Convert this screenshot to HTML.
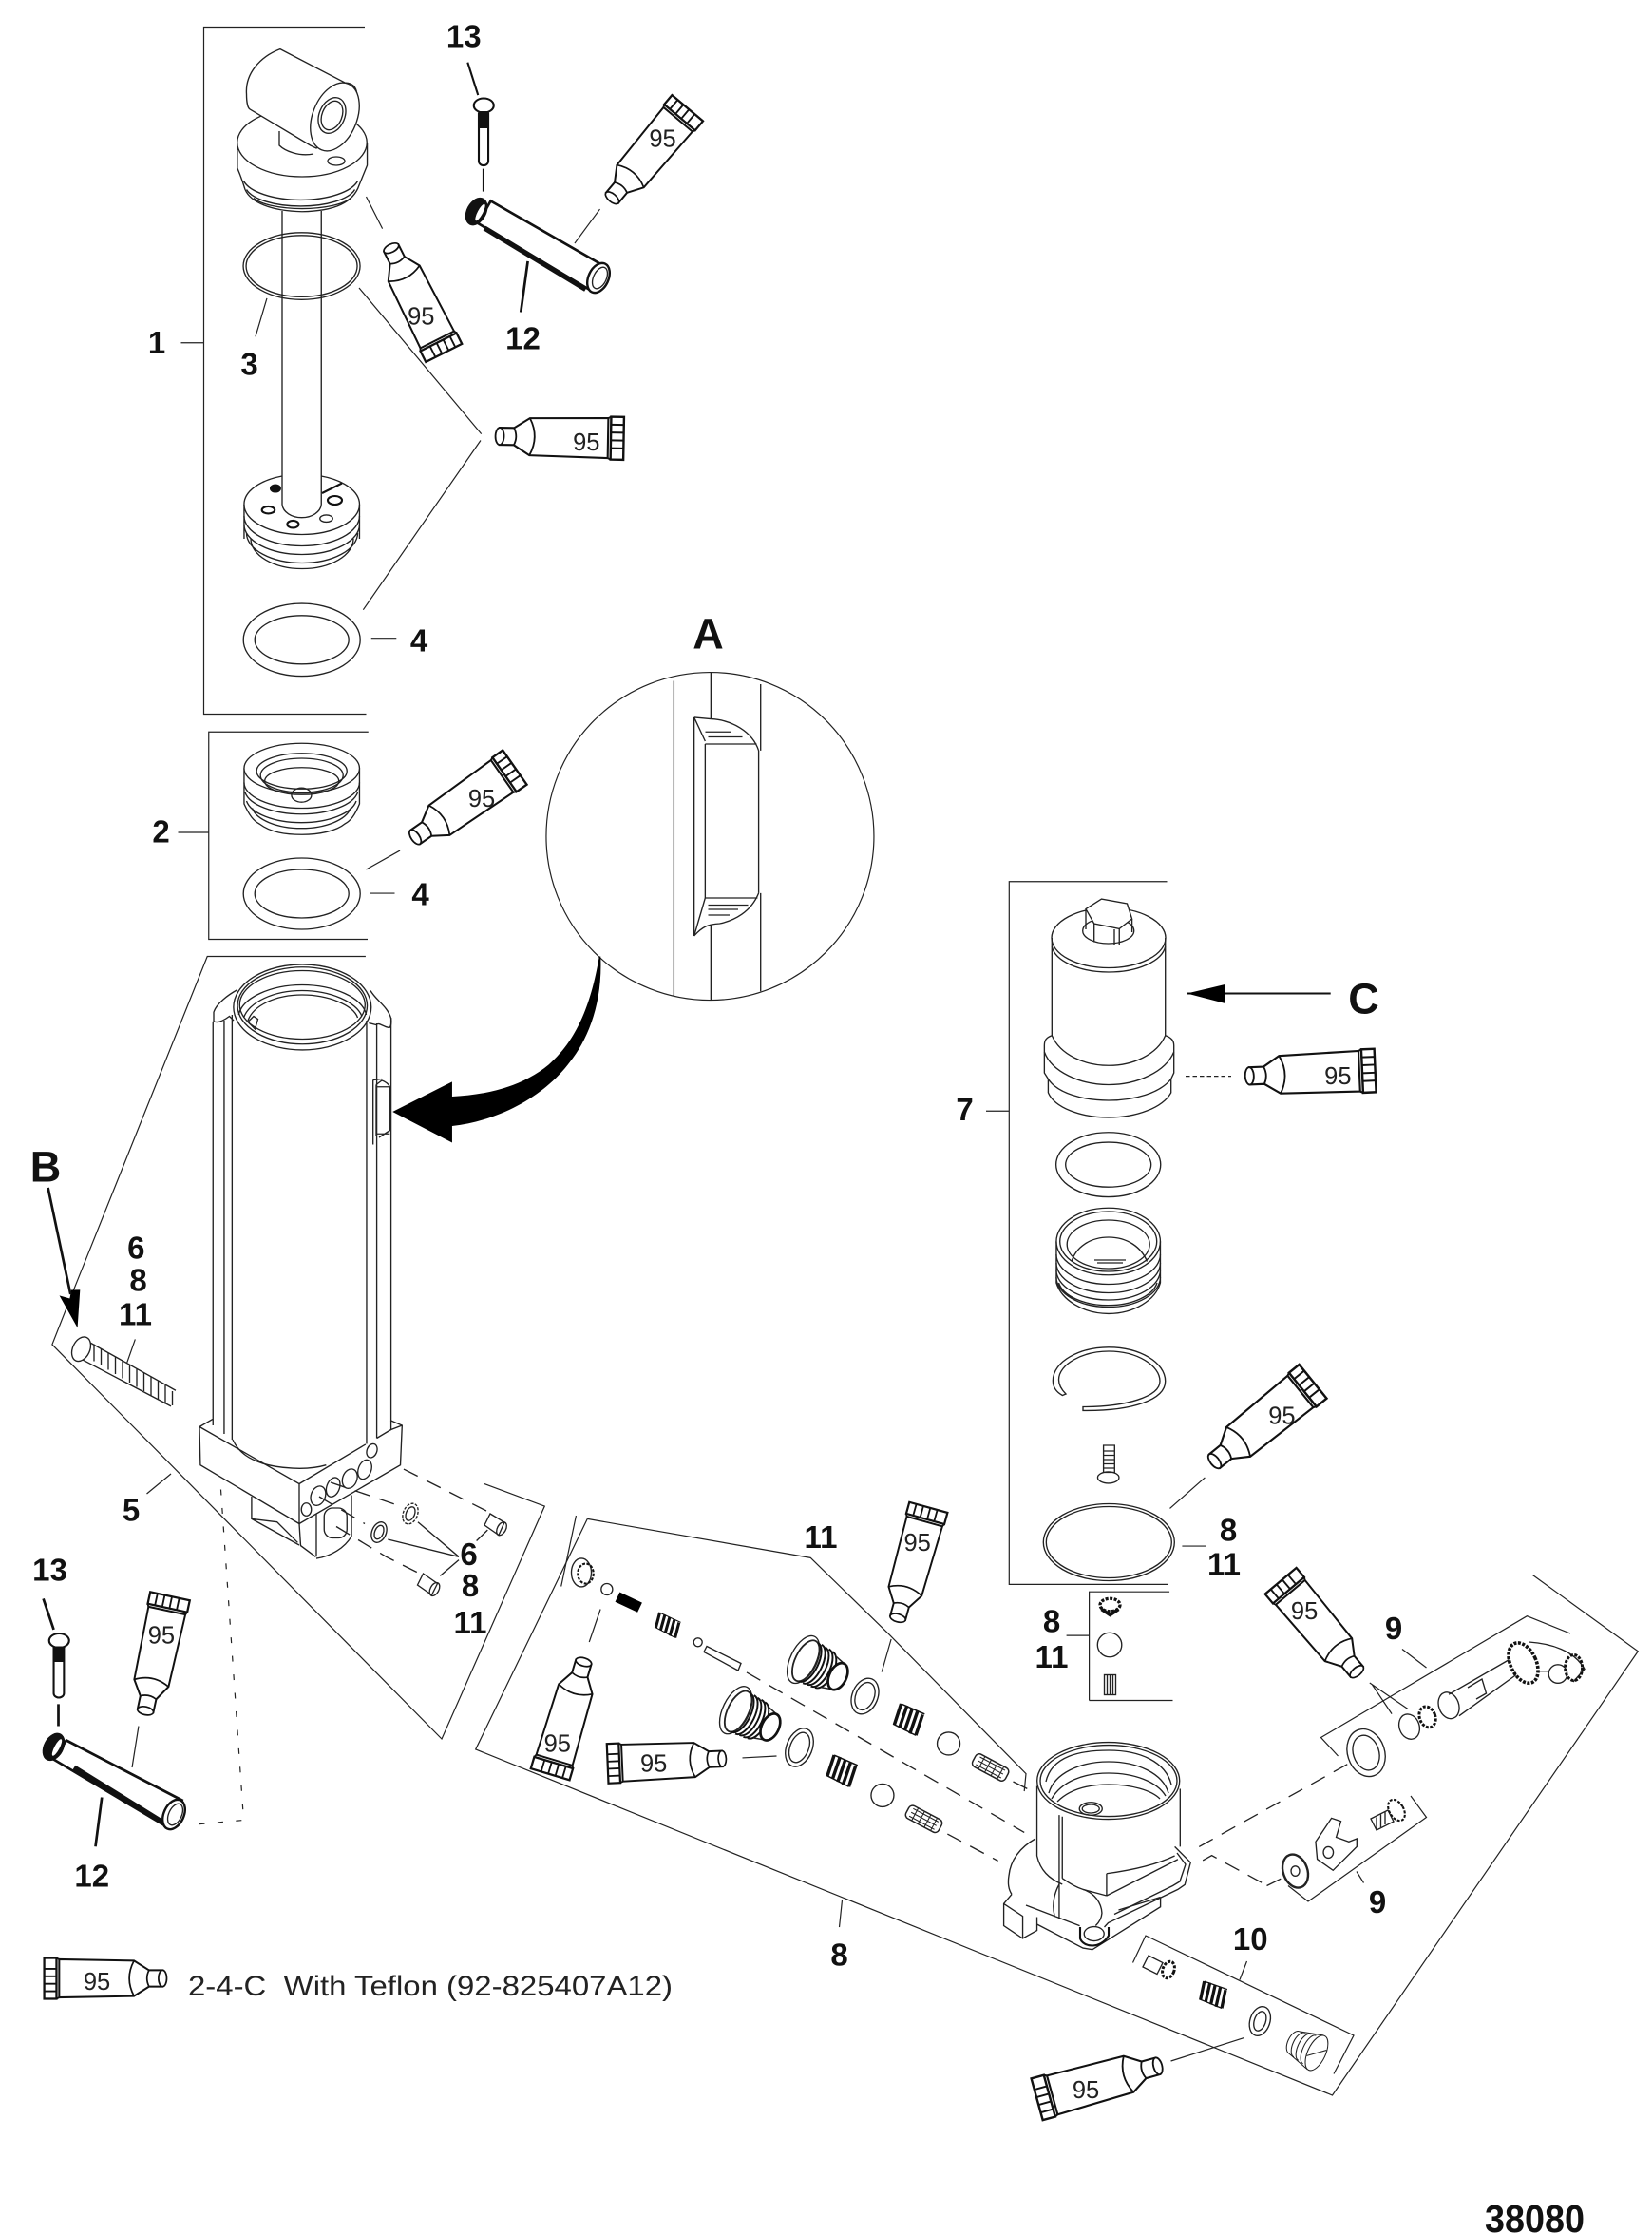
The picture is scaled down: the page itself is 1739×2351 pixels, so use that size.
<!DOCTYPE html>
<html>
<head>
<meta charset="utf-8">
<style>
html,body{margin:0;padding:0;background:#fff;width:1739px;height:2351px;overflow:hidden}
svg{display:block}
.l{fill:none;stroke:#222;stroke-width:.9}
.f{fill:#fff;stroke:#222;stroke-width:.9}
.b{fill:none;stroke:#222;stroke-width:.8}
.k{fill:none;stroke:#111;stroke-width:1.4}
.h{fill:none;stroke:#111;stroke-width:3}
.d{fill:none;stroke:#222;stroke-width:.9;stroke-dasharray:11 7}
.n{font-family:"Liberation Sans",sans-serif;font-weight:bold;font-size:22px;fill:#111;text-anchor:middle}
.c{font-family:"Liberation Sans",sans-serif;font-weight:bold;font-size:30px;fill:#111;text-anchor:middle}
.t{font-family:"Liberation Sans",sans-serif;font-size:17px;fill:#222;text-anchor:middle}
.e{font-family:"Liberation Sans",sans-serif;font-size:20px;fill:#222}
</style>
</head>
<body>
<svg width="1739" height="2351" viewBox="0 0 1159.33 1567.33" xmlns="http://www.w3.org/2000/svg">
<defs>
<g id="tube">
<path d="M3,-6L13,-6L24,-13L79,-14V14L24,13L13,6L3,6Z" fill="#fff" stroke="#111" stroke-width="1.4"/>
<ellipse cx="3" cy="0" rx="3" ry="6" fill="#fff" stroke="#111" stroke-width="1.2"/>
<path d="M13,-6Q16,0 13,6M24,-13Q31,0 24,13" fill="none" stroke="#111" stroke-width="1.2"/>
<rect x="81" y="-15" width="9" height="30" fill="#fff" stroke="#111" stroke-width="1.6"/>
<path d="M81,-9.5H90M81,-4H90M81,1.5H90M81,7H90M79,-14L81,-15M79,14L81,15" stroke="#111" stroke-width="1.3" fill="none"/>
</g>
<g id="spring">
<path d="M-10,-7L-7,8M-6,-8L-3,8M-2,-8L1,8M2,-8L5,8M6,-8L9,7" stroke="#111" stroke-width="2.2" fill="none"/>
<path d="M-10,-7L7,-9M-8,8L9,7" stroke="#111" stroke-width="1" fill="none"/>
</g>
<g id="roller">
<rect x="-13" y="-5" width="26" height="10" rx="3" fill="#fff" stroke="#222" stroke-width="1"/>
<path d="M-10,-3H10M-10,0H10M-10,3H10M-7,-5V5M-2,-5V5M3,-5V5M8,-5V5" stroke="#222" stroke-width=".7" fill="none"/>
</g>
<g id="plug">
<ellipse cx="-13" cy="0" rx="9" ry="18" fill="#fff" stroke="#222" stroke-width=".9"/>
<ellipse cx="-11" cy="0" rx="7.5" ry="15.5" fill="none" stroke="#222" stroke-width="1.2"/>
<path d="M-9,-15A7,15 0 0 1 -9,15M-6,-15A7,15 0 0 1 -6,15M-3,-14.5A7,14.5 0 0 1 -3,14.5M0,-14.5A7,14.5 0 0 1 0,14.5M3,-14A7,14 0 0 1 3,14" fill="none" stroke="#111" stroke-width="1.3"/>
<path d="M7,-12L14,-10M7,12L14,10" stroke="#222" stroke-width="1" fill="none"/>
<ellipse cx="14" cy="0" rx="6" ry="10" fill="#fff" stroke="#111" stroke-width="1.8"/>
</g>
</defs>

<!-- Frames -->
<path class="b" d="M256,19H143V501H257M127,240.5H143"/>
<path class="b" d="M258.5,513.5H146.5V659H258M125,584H146.5"/>
<path class="b" d="M819,618.5H708.2V1111.6H820M692,779.5H708.2"/>
<path class="b" d="M764.4,1193V1116.8H820.7M764.4,1193H823M748.4,1147.4H764.4"/>

<!-- Clevis and cap -->
<path class="l" d="M166.6,102V118C170,126 171,130 172,133C176,142 190,148 212,148.5C235,148 248,142 252,130L257.7,116V100"/>
<ellipse class="f" cx="212" cy="100" rx="45.5" ry="24"/>
<path class="l" d="M171,127A41,17 0 0 0 251,127M173,133A39,15 0 0 0 249,133M178,139A36,11 0 0 0 246,139"/>
<ellipse class="l" cx="236" cy="113" rx="6" ry="3"/>
<path class="f" d="M196.6,34.4C182,40 172,52 173,66C173,72 174,76 175.5,76.7L217.8,102L222,104L240,92L250,72C252,62 248,58 242,58Z"/>
<ellipse class="f" cx="235" cy="82" rx="15.5" ry="25" transform="rotate(22 235 82)"/>
<ellipse class="l" cx="233" cy="81" rx="9" ry="13" transform="rotate(22 233 81)"/>
<ellipse class="l" cx="233" cy="81" rx="7" ry="10.5" transform="rotate(22 233 81)"/>
<path class="l" d="M196,92V102C200,106 210,110 220,108"/>
<!-- Rod -->
<path class="l" d="M198,148V354M225.5,148V354M198,354A13.8,10 0 0 0 225.5,354"/>
<!-- O-ring 3 -->
<ellipse class="l" cx="211.7" cy="186.7" rx="41" ry="23.5"/>
<ellipse class="l" cx="211.7" cy="186.7" rx="39" ry="21.5"/>
<path class="b" d="M257,138L268.4,160.4M187.3,209.3L179.3,236.2M252,202L337.8,304.4M337.3,309L254.9,427.8"/>

<!-- Piston -->
<path class="l" d="M171.3,354V378M252.3,354V378"/>
<path class="l" d="M171.3,354A40.5,21 0 0 1 198,334M225.5,334A40.5,21 0 0 1 252.3,354A40.5,21 0 0 1 171.3,354"/>
<path class="l" d="M171.3,362A40.5,21 0 0 0 252.3,362M171.3,368A40.5,21 0 0 0 252.3,368M173,374A39,21 0 0 0 251,374M176,378A36,21 0 0 0 248,378"/>
<ellipse class="k" cx="188.3" cy="357.8" rx="4.5" ry="2.5"/>
<ellipse class="k" cx="205.6" cy="367.8" rx="4" ry="2.5"/>
<ellipse class="l" cx="229" cy="363.8" rx="4.5" ry="2.5"/>
<ellipse class="k" cx="235" cy="351" rx="5" ry="3"/>
<ellipse class="h" cx="193.3" cy="342.7" rx="2.5" ry="1.5"/>
<path class="k" d="M226,346L240,339"/>

<!-- Ring 4 -->
<ellipse class="l" cx="211.8" cy="448.9" rx="41" ry="25.5"/>
<ellipse class="l" cx="211.8" cy="448.9" rx="33" ry="17"/>
<path class="b" d="M260.5,447.8H278.2"/>

<!-- Piston 2 -->
<path class="l" d="M171.3,539V564C175,572 178,576 182,578C190,584 200,585.5 212,585.5C224,585.5 236,583 242,578C246,576 249,572 252.3,564V539"/>
<ellipse class="f" cx="211.8" cy="539" rx="40.5" ry="17.5"/>
<ellipse class="l" cx="211.8" cy="541" rx="31.7" ry="12.5"/>
<ellipse class="l" cx="211.8" cy="544" rx="29" ry="12"/>
<ellipse class="l" cx="211.8" cy="548" rx="26" ry="9.5"/>
<ellipse class="l" cx="211.6" cy="557.8" rx="7" ry="5"/>
<path class="l" d="M171.3,549A40.5,18 0 0 0 252.3,549M172,556A40,18 0 0 0 251,556M173,562A39,18 0 0 0 250,562M177,567A35,17 0 0 0 246,567"/>
<ellipse class="l" cx="211.8" cy="627" rx="41" ry="25"/>
<ellipse class="l" cx="211.8" cy="627" rx="33" ry="17"/>
<path class="b" d="M260,626.7H277M257,610L280.7,596.7"/>

<!-- Top pin and screw -->
<ellipse class="k" cx="339.5" cy="74" rx="7" ry="5"/>
<path class="k" d="M336,79V113A3.3,3 0 0 0 342.7,113V79"/>
<path d="M336,78H342.7V90H336Z" fill="#111"/>
<path class="k" d="M328.2,43.8L335.5,66.7"/>
<path class="k" d="M339.3,118.4V134.4"/>
<path class="f" d="M344.4,141L422,185.5L413.3,203L335.5,156.7Z" style="stroke-width:1.8;stroke:#111"/>
<path class="h" d="M340,160L411,203" style="stroke-width:3.6"/>
<ellipse cx="334.4" cy="148.4" rx="7" ry="10.5" transform="rotate(28 334.4 148.4)" fill="#111"/>
<ellipse cx="337" cy="149" rx="1.8" ry="6.5" transform="rotate(28 337 149)" fill="#fff"/>
<ellipse class="f" cx="420" cy="195" rx="7" ry="11" transform="rotate(25 420 195)" style="stroke-width:1.6;stroke:#111"/>
<ellipse class="l" cx="421" cy="195" rx="4.5" ry="8" transform="rotate(25 421 195)"/>
<path class="k" d="M370.4,183.3L365.5,219" style="stroke-width:1.8"/>
<path class="b" d="M421,146.7L403.3,170.7"/>

<!-- Circle A -->
<circle class="b" cx="498.3" cy="586.7" r="115"/>
<path class="l" d="M472.9,477.7V698.9M498.9,472V504.4M498.9,648.4V701.7M533.8,480V526.6M533.8,626.6V695.5"/>
<path class="l" d="M487.1,503.3V656.6M494.9,522V630M532.4,526.6V626.6"/>
<path class="l" d="M487.1,503.3L498.9,504.4C513,505 528,513 532.4,526.6M494.9,522H531M487.1,503.3L494.9,520M494.9,630H531.6M494.9,630L487.1,656.6C493,650 497,648.4 505,648C515,646 527,640 532.4,626.6"/>
<path class="l" d="M495,513.5H513M497,517H521M497,635H525M497,638H518M497,642H512"/>

<!-- Big arrow -->
<path d="M275.5,780L317.3,758.9V769.3C345,768 368,761 385,747C402,732 414,710 420.5,671H421.5C423,705 412,730 400,745C383,768 352,786 317.3,790V801.7Z" fill="#000"/>

<!-- Cylinder -->
<path class="l" d="M149.5,716.6V1000M157.3,716V1006M162.9,712V1010M257.3,716V1013M264.4,718V1009M274.4,714V997"/>
<path class="l" d="M150,710C152,704 160,698 166.6,694.4M150,710V716.6C153,718 157,716 161,713L164,716M260,695C264,702 272,706 274.4,714.4C275,718 274,721 273,721C268,720 266,717 264,719L258.9,717.7"/>
<ellipse class="l" cx="212.2" cy="706.6" rx="48.3" ry="30"/>
<ellipse class="l" cx="212.2" cy="705.5" rx="45.5" ry="27"/>
<ellipse class="l" cx="212.2" cy="705" rx="44" ry="24"/>
<path class="l" d="M167.5,712C170,700 190,691 212,691C234,691 255,700 257,712M171,714C175,703 192,695 212,695C232,695 250,703 254,713M174,716C178,705 194,698 212,698C230,698 248,705 251,714"/>
<path class="l" d="M178,713L174,717L179,722L181,715Z"/>
<path class="l" d="M261.8,757.7V803M264,761V797M264,762.5H273.8M264,795.5H273.5M264,761L268,758C271,759 273,761 273.8,763V793L266,798"/>
<path class="l" d="M261.8,757.7L268,757"/>

<!-- Base block -->
<path class="l" d="M140,1001L149.3,995.6M140,1001L140.6,1027.8L210,1069V1041L140,1001"/>
<path class="l" d="M210,1041L256.6,1013.3M264.4,1009L274.4,1003M274.4,996.7L282.2,1000L281,1027.8L210,1069"/>
<path class="l" d="M274.4,996.7V1003L282.2,1000"/>
<path class="l" d="M163.3,1010C168,1020 176,1024 184.4,1026.7C195,1030 215,1032 228.9,1027.8"/>
<path class="l" d="M222,1062V1092.2M210,1069L211,1084.4L221.5,1092.2M222,1093.4C232,1092 242,1086 246.7,1077.8V1049"/>
<path class="l" d="M176.6,1050V1065.6L194.4,1067.8L208.9,1082.2M176.6,1065.6L210,1084"/>
<ellipse class="l" cx="261" cy="1017.8" rx="3.5" ry="5" transform="rotate(20 261 1017.8)"/>
<ellipse class="l" cx="256" cy="1031" rx="4.5" ry="7" transform="rotate(20 256 1031)"/>
<ellipse class="l" cx="245.5" cy="1037.4" rx="5" ry="7" transform="rotate(20 245.5 1037.4)"/>
<ellipse class="l" cx="233.8" cy="1043.4" rx="4.5" ry="7" transform="rotate(20 233.8 1043.4)"/>
<ellipse class="l" cx="223.3" cy="1049.4" rx="5" ry="7" transform="rotate(20 223.3 1049.4)"/>
<ellipse class="l" cx="215" cy="1059" rx="3.5" ry="4.5"/>
<rect class="l" x="227.5" y="1058" width="16" height="21" rx="6"/>
<path class="d" d="M283.3,1030.7L343.3,1061"/>
<path class="d" d="M232,1040L281,1056.7"/>
<path class="d" d="M224,1050L256,1069M236,1071L271,1092.2L293.3,1103.4"/>
<ellipse class="l" cx="288" cy="1062" rx="5" ry="7.5" transform="rotate(22 288 1062)" stroke-dasharray="2 1"/>
<ellipse class="l" cx="288" cy="1062" rx="3" ry="5" transform="rotate(22 288 1062)"/>
<ellipse class="l" cx="266" cy="1075" rx="5" ry="7.5" transform="rotate(22 266 1075)"/>
<ellipse class="l" cx="266" cy="1075" rx="3" ry="5" transform="rotate(22 266 1075)"/>
<path class="f" d="M344,1062L354,1068L350,1077L340,1070Z"/>
<ellipse class="l" cx="352" cy="1072.5" rx="3" ry="5" transform="rotate(28 352 1072.5)"/>
<path class="f" d="M297,1104L307,1111L303,1119L293,1112Z"/>
<ellipse class="l" cx="305" cy="1115" rx="3" ry="5" transform="rotate(28 305 1115)"/>
<path class="l" d="M293.3,1067.8L322,1092.2M272.2,1080L322,1092.2M342.2,1073.4L334.4,1081M322,1094.4L308.9,1105.6"/>

<!-- Bracket 5 -->
<path class="b" d="M256.6,671H145.5L51,906.7L36.6,943.3L310,1220L382.2,1056.7L340,1041"/>
<path class="b" d="M103,1048L120,1034"/>

<!-- B arrow and bolt -->
<path d="M54.4,931.6L41.7,908.9L49,911L50,905L56.2,904.9Z" fill="#000"/>
<path class="k" d="M33.7,833.3L49.5,908" style="stroke-width:1.8"/>
<path class="l" d="M63.3,942L123.3,975.5M56.6,953.3L120,986.6"/>
<ellipse class="f" cx="57" cy="946.5" rx="6" ry="9" transform="rotate(25 57 946.5)"/>
<path class="l" d="M66,943V955M71,946V958M76,949V961M81,952V964M86,954V967M91,957V970M96,960V973M101,963V976M106,966V979M111,969V982M116,972V985M121,976V986"/>
<path class="b" d="M94.9,939.6L88.9,956.7"/>

<!-- Lower left pin and screw -->
<ellipse class="k" cx="41.5" cy="1151" rx="7" ry="5"/>
<path class="k" d="M37.7,1155V1188A3.6,3 0 0 0 44.9,1188V1155"/>
<path d="M37.7,1155H44.9V1166H37.7Z" fill="#111"/>
<path class="k" d="M30.4,1121.6L37.7,1143.3M41,1195.6V1211" style="stroke-width:1.8"/>
<path class="f" d="M46.6,1221L127.7,1263L117.7,1282L37.7,1234.4Z" style="stroke-width:1.8;stroke:#111"/>
<path class="h" d="M52,1240L115,1279" style="stroke-width:3.6"/>
<ellipse cx="37.7" cy="1225.6" rx="7" ry="10.5" transform="rotate(28 37.7 1225.6)" fill="#111"/>
<ellipse cx="40" cy="1226" rx="1.8" ry="6.5" transform="rotate(28 40 1226)" fill="#fff"/>
<ellipse class="f" cx="122" cy="1273" rx="7" ry="11" transform="rotate(25 122 1273)" style="stroke-width:1.6;stroke:#111"/>
<ellipse class="l" cx="123" cy="1273" rx="4.5" ry="8" transform="rotate(25 123 1273)"/>
<path class="k" d="M71.5,1261L67,1295.5" style="stroke-width:1.8"/>
<path class="b" d="M97.3,1211L92.7,1240"/>
<path class="b" stroke-dasharray="4 9" d="M155,1045L171,1277L137,1280" style="stroke-dasharray:4 9"/>

<!-- Cap C -->
<path class="l" d="M738.2,658V726.5M817.8,658V726.5"/>
<ellipse class="l" cx="778" cy="658" rx="40" ry="21"/>
<path class="l" d="M738.2,664A40,20 0 0 0 817.8,664"/>
<ellipse class="l" cx="777.8" cy="653" rx="18" ry="9"/>
<path class="f" d="M762,637.7L773,630.7L791,634L794.4,644.7L785.5,651.6L767.8,648Z"/>
<path class="l" d="M767.8,648V661M785.5,651.6V663M794.4,644.7V654M762,638V652M782,652V663"/>
<path class="f" d="M738.2,726.5C734,728 732.9,730 732.9,733.5V752.7L735.6,757V766.6C740,777 758,784 778,784C798,784 816,777 821.8,766.6V757L823.8,752.7V733.5C823.8,730 822,728 817.8,726.5C812,740 795,747.5 778,747.5C761,747.5 744,740 738.2,726.5Z"/>
<path class="l" d="M732.9,738C738,752 758,761 778,761C798,761 818,752 823.8,738M735.6,757C742,767 760,772 778,772C796,772 814,767 821.8,757"/>
<path class="k" d="M832.9,697H933.8"/>
<path d="M832.9,697L859.6,690.7V703.9Z" fill="#000"/>
<path class="b" style="stroke-dasharray:3 2" d="M832,755.1H864"/>

<ellipse class="l" cx="777.8" cy="817.1" rx="36.7" ry="22.6"/>
<ellipse class="l" cx="777.8" cy="817.1" rx="30" ry="15.7"/>

<!-- Threaded ring -->
<path class="l" d="M741.3,871V900C745,912 760,921.6 778,921.6C796,921.6 811,912 814.3,900V871"/>
<ellipse class="l" cx="777.8" cy="871" rx="36.5" ry="23.5"/>
<ellipse class="l" cx="777.8" cy="871" rx="34" ry="21"/>
<ellipse class="l" cx="777.8" cy="873" rx="29" ry="17"/>
<path class="l" d="M752,885C755,875 765,868 778,868C791,868 801,875 805,885"/>
<path class="l" d="M768,884H790M770,886H788"/>
<path class="l" d="M741.3,880A36.5,21 0 0 0 814.3,880M741.3,886A36.5,21 0 0 0 814.3,886M741.3,891A36.5,21 0 0 0 814.3,891M741.3,896A36.5,21 0 0 0 814.3,896M743,900A35,19 0 0 0 812,900"/>

<!-- Snap ring -->
<path class="l" d="M745.6,979C740,976 738.9,972 738.9,968.7C738.9,955 758,945.2 778,945.2C800,945.2 817.8,956 817.8,969C817.8,982 795,990 760,989.6L760,987C790,987 814,980 814,969C814,958 798,948 778,948C760,948 743,957 743,968C743,972 745,975 748,978L745.6,979Z"/>

<!-- Small screw -->
<path class="l" d="M774.4,1014H782.2V1033H774.4Z"/>
<path class="l" d="M774.4,1018H782.2M774.4,1021H782.2M774.4,1024H782.2M774.4,1027H782.2M774.4,1030H782.2"/>
<ellipse class="l" cx="777.8" cy="1036.6" rx="7.5" ry="4"/>

<!-- Large O ring -->
<ellipse class="l" cx="778.2" cy="1082" rx="46" ry="27"/>
<ellipse class="l" cx="778.2" cy="1082" rx="44" ry="25"/>
<path class="b" d="M821,1058.3L845.6,1036.6M829.6,1084.7H846"/>

<!-- small set -->
<ellipse class="h" cx="779" cy="1126" rx="7" ry="4.5" style="stroke-width:2.2;stroke-dasharray:2 1"/>
<path class="h" d="M773,1129L779,1133L785,1129" style="stroke-width:2.4"/>
<circle class="l" cx="778.7" cy="1154" r="8.5"/>
<rect class="l" x="775" y="1175" width="8" height="14"/>
<path class="l" d="M777,1175V1189M779,1175V1189M781,1175V1189"/>

<!-- Bracket 8 -->
<path class="b" d="M412.2,1065.6L568.8,1092.9L624,1146.7L720,1244.4L718.8,1256.7"/>
<path class="b" d="M412.2,1065.6L333.8,1227.3L935,1470L1149.5,1158.5L1075.6,1105"/>
<path class="b" d="M404.3,1063.3L393.8,1113M421.4,1129L413.5,1152"/>
<path class="b" d="M591,1333L589,1352"/>

<!-- Valve parts -->
<ellipse class="l" cx="408" cy="1103.3" rx="7" ry="10"/>
<ellipse class="k" cx="411" cy="1104" rx="5.5" ry="7" style="stroke-dasharray:2 1"/>
<circle class="l" cx="425.9" cy="1115" r="4"/>
<path d="M433.3,1120.4L449,1127.8" stroke="#000" stroke-width="7.5"/>
<use href="#spring" transform="translate(468.8 1140.4) rotate(30) scale(.95 .7)"/>
<circle class="l" cx="489.8" cy="1152.2" r="3"/>
<path class="l" d="M496,1155L520,1167L518,1172L494,1159Z"/>
<path class="d" d="M524,1173.3L718.8,1285.6"/>
<use href="#plug" transform="translate(575.4 1170) rotate(26)"/>
<ellipse class="l" cx="607" cy="1190" rx="9" ry="13" transform="rotate(22 607 1190)"/>
<ellipse class="l" cx="607" cy="1190" rx="6.5" ry="10" transform="rotate(22 607 1190)"/>
<use href="#spring" transform="translate(638 1206.7) rotate(30) scale(1.05 1)"/>
<circle class="l" cx="665.7" cy="1223.3" r="8"/>
<use href="#roller" transform="translate(695.1 1240) rotate(28)"/>
<path class="d" d="M711,1250L726.7,1257.8"/>
<path class="b" d="M625.4,1150L618.8,1173"/>

<use href="#plug" transform="translate(528 1205.5) rotate(26)"/>
<ellipse class="l" cx="561" cy="1226" rx="9" ry="14" transform="rotate(22 561 1226)"/>
<ellipse class="l" cx="561" cy="1226" rx="6.5" ry="11" transform="rotate(22 561 1226)"/>
<use href="#spring" transform="translate(591 1242.7) rotate(30) scale(1.05 1)"/>
<circle class="l" cx="619.3" cy="1259.6" r="8"/>
<use href="#roller" transform="translate(648.3 1276.2) rotate(28)"/>
<path class="d" d="M664.9,1286.7L700.4,1305.6"/>
<path class="b" d="M521,1233.3L545,1232"/>

<!-- Housing -->
<path class="f" d="M727.7,1253V1302C728,1312 736,1320 745.5,1317.8L760,1325.6L776.6,1330L826.6,1304.5L828.2,1295.6V1255L778,1230Z" style="stroke:none"/>
<path class="l" d="M727.7,1253V1302C730,1312 736,1318 745.5,1322M828.2,1255V1295.6"/>
<ellipse class="f" cx="777.8" cy="1249.4" rx="50" ry="27"/>
<ellipse class="l" cx="778" cy="1249.4" rx="48" ry="25"/>
<path class="l" d="M734,1250C738,1232 758,1228 778,1228C800,1228 818,1236 822,1252"/>
<path class="l" d="M736,1258C740,1244 758,1236 778,1236C798,1236 816,1244 820,1258M738,1262C745,1250 760,1244 778,1244C796,1244 812,1250 818,1260M742,1264C750,1256 762,1252 778,1252C794,1252 808,1256 814,1262"/>
<ellipse class="l" cx="765.5" cy="1269" rx="8" ry="4.5"/>
<ellipse class="l" cx="765.5" cy="1269" rx="6" ry="3"/>
<path class="l" d="M743.3,1273.4V1346.7M745.5,1274.5V1317.8"/>
<path class="l" d="M745.5,1317.8C750,1321 755,1324 760,1325.6L776.6,1330M776.6,1314.5V1330M776.6,1314.5C795,1312 812,1308 824.4,1302M776.6,1330L826.6,1304.5"/>
<path class="l" d="M824.4,1295.6L835.5,1306.7L831.5,1322.2L826.6,1325.6L777.7,1349L775,1352M826,1300L832,1308L828,1320L823,1323L782,1343"/>
<path class="l" d="M726.6,1290C716,1296 709,1305 708,1316C707,1322 708,1326 710,1329"/>
<path class="l" d="M710,1329L704.4,1335.6V1351L717.7,1360L727.7,1354.4V1345M704.4,1335.6L717.7,1344.4V1360M720,1336.7L757.7,1351.1M727.7,1350L760,1366.7L766.6,1367.8L814.4,1337.8V1331M785,1340L814.4,1331"/>
<path class="l" d="M743.3,1322C740,1328 738,1336 740,1344M760,1325.6C768,1328 773,1335 773.3,1342.2C773,1346 771,1349 768.9,1351"/>
<path class="k" d="M758,1352V1360C760,1366 772,1368 778,1358L778,1352"/>
<ellipse class="l" cx="767.8" cy="1356.7" rx="7" ry="5"/>

<!-- Group 9 -->
<path class="b" d="M939,1232L927,1219L1071.6,1133.8L1102,1146M984,1157L1001,1170"/>
<path class="b" d="M990,1260L1001,1275L918,1334L904,1323M952,1313L957,1321"/>
<path class="d" d="M945.5,1237.8L835.4,1299"/>
<path class="d" d="M885.4,1320.8L850.4,1301.8L838,1308.6M889,1323L901.7,1316.7"/>
<ellipse class="l" cx="958.7" cy="1229.7" rx="13" ry="17" transform="rotate(-18 958.7 1229.7)"/>
<ellipse class="l" cx="958.7" cy="1229.7" rx="9" ry="12.5" transform="rotate(-18 958.7 1229.7)"/>
<ellipse class="l" cx="909" cy="1312.7" rx="8.5" ry="12" transform="rotate(-20 909 1312.7)" style="stroke-width:1.6"/>
<ellipse class="l" cx="909" cy="1312.7" rx="3" ry="3.5"/>
<path class="l" d="M923.3,1292.2L934.4,1275.6L941,1277.8L937.7,1289L946.6,1292.2L952.2,1290V1295.6L935.5,1312.2L924.4,1304.4Z"/>
<ellipse class="l" cx="932.2" cy="1299.6" rx="3.5" ry="4"/>
<path class="l" d="M962,1276L974,1270L978,1278L966,1284Z"/>
<path class="l" d="M966,1275V1284M969,1273V1282M972,1271V1280"/>
<ellipse class="k" cx="980" cy="1270" rx="5" ry="8" transform="rotate(-30 980 1270)" style="stroke-dasharray:2 1"/>
<path class="b" d="M961.2,1180.7L988,1199M963,1182L976.7,1202.4"/>
<ellipse class="l" cx="989" cy="1211.4" rx="7" ry="9" transform="rotate(-20 989 1211.4)"/>
<ellipse class="k" cx="1001.7" cy="1204.6" rx="5.5" ry="7.5" transform="rotate(-20 1001.7 1204.6)" style="stroke-dasharray:2 1;stroke-width:2"/>
<ellipse class="l" cx="1016.7" cy="1196.5" rx="7" ry="9.5" transform="rotate(-20 1016.7 1196.5)"/>
<path class="l" d="M1016.7,1188.8L1059,1164.4M1024,1203.8L1064,1175M1030,1184L1040,1178L1043,1188L1036,1192"/>
<ellipse class="k" cx="1069" cy="1166.7" rx="9" ry="15" transform="rotate(-25 1069 1166.7)" style="stroke-dasharray:2 1;stroke-width:2.4"/>
<path class="l" d="M1073,1152C1088,1153 1105,1158 1112,1171L1104,1180M1079,1172.5H1087"/>
<circle class="l" cx="1093.3" cy="1174.4" r="6.5"/>
<ellipse class="k" cx="1104.4" cy="1170" rx="6" ry="9" style="stroke-dasharray:2 1;stroke-width:2"/>

<!-- Group 10 -->
<path class="b" d="M795,1377L804,1358L950,1428L936,1455M875,1376L870,1389"/>
<path class="l" d="M806,1372L816,1377L812,1385L802,1380Z"/>
<ellipse class="k" cx="820" cy="1382" rx="4" ry="6" transform="rotate(20 820 1382)" style="stroke-dasharray:2 1;stroke-width:2"/>
<use href="#spring" transform="translate(851.7 1399.7) rotate(25) scale(1 .85)"/>
<ellipse class="l" cx="884.2" cy="1418" rx="7" ry="10.5" transform="rotate(18 884.2 1418)"/>
<ellipse class="l" cx="884.2" cy="1418" rx="4" ry="7" transform="rotate(18 884.2 1418)"/>
<g transform="translate(919 1438) rotate(25) scale(.78)">
<path class="l" d="M-15,-11A6,11 0 0 0 -15,11M-10,-12A6,12 0 0 0 -10,12M-5,-13A6,13 0 0 0 -5,13M0,-14A6,14 0 0 0 0,14"/>
<path class="l" d="M-15,-11L6,-17M-15,11L6,17"/>
<ellipse class="f" cx="7" cy="0" rx="8" ry="17"/>
<path class="l" d="M0,6L14,-6"/>
</g>
<path class="b" d="M821.7,1446L873,1429.7"/>

<!-- Tubes -->
<use href="#tube" transform="translate(427.8 141) rotate(-50) scale(.945)"/>
<use href="#tube" transform="translate(273.3 171.6) rotate(63.3) scale(.945)"/>
<use href="#tube" transform="translate(347.7 306) rotate(1)"/>
<use href="#tube" transform="translate(289 589) rotate(-35) scale(.98)"/>
<use href="#tube" transform="translate(873.8 755) rotate(-2.5) scale(1.015)"/>
<use href="#tube" transform="translate(850 1027) rotate(-39) scale(1.02)"/>
<use href="#tube" transform="translate(954 1175) rotate(-130) scale(.955)"/>
<use href="#tube" transform="translate(629.3 1137.8) rotate(-74.5) scale(.925)"/>
<use href="#tube" transform="translate(410.4 1163.3) rotate(106.6) scale(.945)"/>
<use href="#tube" transform="translate(509.6 1233.8) rotate(177.6) scale(.925)"/>
<use href="#tube" transform="translate(101.5 1203) rotate(-77.9) scale(.945)"/>
<use href="#tube" transform="translate(815.4 1448.7) rotate(164.6) scale(1.01)"/>
<use href="#tube" transform="translate(117 1388) rotate(180) scale(.955)"/>

<text class="t" x="465" y="103">95</text>
<text class="t" x="295.5" y="227.5">95</text>
<text class="t" x="411.5" y="316">95</text>
<text class="t" x="338" y="566">95</text>
<text class="t" x="938.9" y="760.5">95</text>
<text class="t" x="899.6" y="999">95</text>
<text class="t" x="915.4" y="1136">95</text>
<text class="t" x="643.8" y="1088">95</text>
<text class="t" x="391.2" y="1229">95</text>
<text class="t" x="458.8" y="1243">95</text>
<text class="t" x="113.3" y="1153">95</text>
<text class="t" x="762" y="1472">95</text>
<text class="t" x="68" y="1396">95</text>

<!-- Labels -->
<text class="n" x="325.5" y="33">13</text>
<text class="n" x="367" y="245">12</text>
<text class="n" x="110" y="248">1</text>
<text class="n" x="175" y="263">3</text>
<text class="n" x="294" y="457">4</text>
<text class="n" x="113" y="591">2</text>
<text class="n" x="295" y="635">4</text>
<text class="n" x="677" y="786">7</text>
<text class="n" x="95.5" y="883">6</text>
<text class="n" x="97" y="905.5">8</text>
<text class="n" x="95" y="929.5">11</text>
<text class="n" x="92" y="1067">5</text>
<text class="n" x="329" y="1098">6</text>
<text class="n" x="330" y="1120">8</text>
<text class="n" x="330" y="1146">11</text>
<text class="n" x="35" y="1109">13</text>
<text class="n" x="64.5" y="1323.5">12</text>
<text class="n" x="576" y="1086">11</text>
<text class="n" x="862" y="1081">8</text>
<text class="n" x="859" y="1105">11</text>
<text class="n" x="738" y="1145">8</text>
<text class="n" x="738" y="1170">11</text>
<text class="n" x="978" y="1150">9</text>
<text class="n" x="966.7" y="1342">9</text>
<text class="n" x="877.5" y="1368">10</text>
<text class="n" x="589" y="1379">8</text>
<text class="c" x="497" y="455">A</text>
<text class="c" x="32" y="829">B</text>
<text class="c" x="957" y="711">C</text>
<text class="e" x="132" y="1400" textLength="340" lengthAdjust="spacingAndGlyphs" xml:space="preserve">2-4-C  With Teflon (92-825407A12)</text>
<text x="1042" y="1566" font-family="'Liberation Sans',sans-serif" font-weight="bold" font-size="27" fill="#111" textLength="70" lengthAdjust="spacingAndGlyphs">38080</text>
</svg>
</body>
</html>
